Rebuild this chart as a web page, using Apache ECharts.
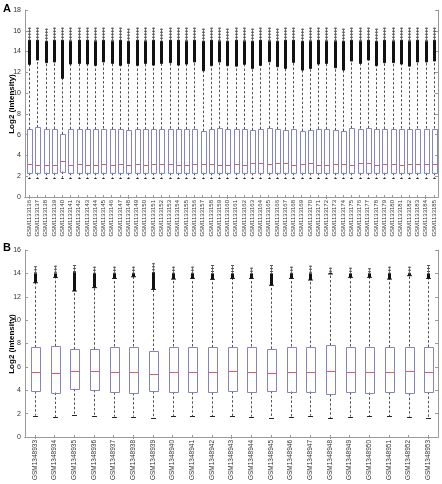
<!DOCTYPE html>
<html><head><meta charset="utf-8">
<script src="https://cdn.jsdelivr.net/npm/echarts@6/dist/echarts.min.js"></script>
<style>html,body{margin:0;padding:0;background:#fff}#c{width:442px;height:484px}</style>
</head><body><div id="c"></div>
<script>
// ---------- Panel A ----------
const catsA = ['GSM1133136','GSM1133137','GSM1133138','GSM1133139','GSM1133140','GSM1133141','GSM1133142','GSM1133143','GSM1133144','GSM1133145',
'GSM1133146','GSM1133147','GSM1133148','GSM1133149','GSM1133150','GSM1133151','GSM1133152','GSM1133153','GSM1133154','GSM1133155',
'GSM1133156','GSM1133157','GSM1133158','GSM1133159','GSM1133160','GSM1133161','GSM1133162','GSM1133163','GSM1133164','GSM1133165',
'GSM1133166','GSM1133167','GSM1133168','GSM1133169','GSM1133170','GSM1133171','GSM1133172','GSM1133173','GSM1133174','GSM1133175',
'GSM1133176','GSM1133177','GSM1133178','GSM1133179','GSM1133180','GSM1133181','GSM1133182','GSM1133183','GSM1133184','GSM1133185'];
const q3A  = [6.50,6.69,6.52,6.55,6.04,6.52,6.52,6.52,6.50,6.59, 6.52,6.50,6.47,6.50,6.50,6.55,6.55,6.58,6.52,6.52,
              6.58,6.34,6.52,6.62,6.52,6.50,6.50,6.42,6.52,6.62, 6.52,6.47,6.59,6.34,6.42,6.55,6.52,6.42,6.34,6.62,
              6.59,6.62,6.50,6.55,6.50,6.59,6.52,6.59,6.59,6.59];
const medA = [3.22,3.06,3.12,3.12,3.47,3.12,3.22,3.12,3.12,3.15, 3.12,3.18,3.12,3.22,3.12,3.15,3.15,3.18,3.09,3.09,
              3.15,3.15,3.18,3.09,3.12,3.15,3.12,3.25,3.25,3.15, 3.30,3.30,3.09,3.15,3.25,3.06,3.12,3.22,3.22,3.12,
              3.28,3.25,3.12,3.18,3.22,3.12,3.18,3.22,3.22,3.22];
const q1A  = [2.33,2.33,2.33,2.33,2.45,2.33,2.33,2.33,2.33,2.33, 2.33,2.33,2.33,2.33,2.33,2.33,2.33,2.33,2.33,2.33,
              2.33,2.33,2.33,2.33,2.33,2.33,2.33,2.33,2.33,2.33, 2.33,2.33,2.33,2.33,2.33,2.33,2.33,2.33,2.33,2.33,
              2.33,2.33,2.33,2.33,2.33,2.33,2.33,2.33,2.33,2.33];
const wlA  = [1.83,1.83,1.83,1.83,1.85,1.83,1.83,1.83,1.83,1.83, 1.83,1.83,1.83,1.83,1.83,1.83,1.83,1.83,1.83,1.83,
              1.83,1.83,1.83,1.83,1.83,1.83,1.83,1.83,1.83,1.83, 1.83,1.83,1.83,1.83,1.83,1.83,1.83,1.83,1.83,1.83,
              1.83,1.83,1.83,1.83,1.83,1.83,1.83,1.83,1.83,1.83];
const whA  = [12.77,13.19,12.93,13.00,11.42,12.80,12.86,12.80,12.67,13.00, 12.86,12.67,12.86,12.67,12.86,12.70,12.86,12.93,12.70,12.80,
              13.00,12.15,12.64,13.00,12.64,12.60,12.77,12.38,12.67,13.02, 12.54,12.38,12.96,12.22,12.38,12.80,12.86,12.44,12.22,13.09,
              12.86,13.19,12.64,12.93,12.93,12.80,12.60,13.00,13.00,13.09];
const denseEndA = [15.1,15.1,15.0,15.1,15.1,15.0,15.1,15.1,15.0,15.1, 15.0,15.1,15.0,15.1,15.0,15.1,15.0,15.1,15.1,15.0,
              15.1,15.0,15.1,15.0,15.0,15.1,15.0,15.0,15.1,15.0, 15.0,15.1,15.1,15.0,15.0,15.1,15.0,15.0,15.0,15.1,
              15.0,15.1,15.0,15.1,15.0,15.1,15.0,15.1,15.0,15.1];
const topA = [16.3,16.3,16.2,16.3,16.3,16.3,16.3,16.3,16.3,16.3, 16.3,16.3,16.2,16.3,16.3,16.3,16.2,16.3,16.3,16.3,
              16.3,16.2,16.3,16.3,16.2,16.3,16.3,16.2,16.3,16.3, 16.2,16.3,16.3,16.2,16.3,16.3,16.3,16.3,16.2,16.3,
              16.3,16.3,16.2,16.3,16.3,16.3,16.3,16.3,16.3,16.3];
const yTicksA = {min: 0, max: 18, step: 2};

// ---------- Panel B ----------
const catsB = ['GSM1348933','GSM1348934','GSM1348935','GSM1348936','GSM1348937','GSM1348938','GSM1348939','GSM1348940','GSM1348941','GSM1348942',
'GSM1348943','GSM1348944','GSM1348945','GSM1348946','GSM1348947','GSM1348948','GSM1348949','GSM1348950','GSM1348951','GSM1348952','GSM1348953'];
const wlB  = [1.83,1.72,1.86,1.77,1.74,1.74,1.63,1.80,1.77,1.77,1.77,1.74,1.60,1.74,1.83,1.60,1.74,1.80,1.77,1.74,1.66];
const q1B  = [3.92,3.80,4.12,4.03,3.83,3.77,3.92,3.86,3.83,3.83,3.92,3.83,3.94,3.89,3.89,3.66,3.83,3.80,3.83,3.75,3.86];
const medB = [5.54,5.51,5.63,5.63,5.54,5.54,5.37,5.57,5.57,5.57,5.63,5.54,5.51,5.57,5.60,5.63,5.54,5.54,5.54,5.63,5.54];
const q3B  = [7.66,7.77,7.49,7.51,7.74,7.74,7.40,7.74,7.74,7.66,7.66,7.74,7.54,7.74,7.66,7.83,7.74,7.74,7.66,7.74,7.69];
const whB  = [13.20,13.66,12.49,12.78,13.57,13.71,12.63,13.51,13.57,13.49,13.57,13.57,12.98,13.57,13.43,13.95,13.66,13.66,13.51,13.80,13.57];
const denseEndB = [14.0,14.0,14.1,14.0,14.0,14.0,14.1,14.0,14.0,14.0,14.0,14.0,14.0,14.0,14.0,14.05,14.0,14.0,14.0,14.0,14.0];
const topB = [14.60,14.66,14.71,14.57,14.57,14.57,14.86,14.57,14.57,14.71,14.71,14.48,14.71,14.57,14.66,14.48,14.48,14.43,14.57,14.57,14.71];
const yTicksB = {min: 0, max: 16, step: 2};

const FONT = 'Arial, "Liberation Sans", sans-serif';
const FRAME = '#9a9a9a';

function rows(cats, wl, q1, med, q3, wh, de, tp) {
  return cats.map((c, i) => [i, wl[i], q1[i], med[i], q3[i], wh[i], de[i], tp[i]]);
}

function makeRender(boxRatio, denseW) {
  return function (params, api) {
    const i = api.value(0);
    const bw = api.size([1, 0])[0];
    const half = bw * boxRatio / 2;
    const cx = Math.round(api.coord([i, 0])[0]) + 0.5;
    const Y = v => api.coord([i, v])[1];
    const yWl = Y(api.value(1)), yQ1 = Y(api.value(2)), yMed = Y(api.value(3)),
          yQ3 = Y(api.value(4)), yWh = Y(api.value(5)), yDe = Y(api.value(6)), yTop = Y(api.value(7));
    const capHalf = half * 0.5;
    const bl = Math.round(cx - half) + 0.5, br = Math.round(cx + half) + 0.5;
    const dash = {stroke: '#555', lineWidth: 1, lineDash: [2.5, 2]};
    return {
      type: 'group',
      children: [
        {type: 'line', shape: {x1: cx, y1: yQ1, x2: cx, y2: yWl}, style: dash},
        {type: 'line', shape: {x1: cx, y1: yQ3, x2: cx, y2: yWh}, style: dash},
        {type: 'line', shape: {x1: cx - capHalf, y1: Math.round(yWl) + 0.5, x2: cx + capHalf, y2: Math.round(yWl) + 0.5}, style: {stroke: '#222', lineWidth: 1}},
        {type: 'rect', shape: {x: bl, y: Math.round(yQ3) + 0.5, width: br - bl, height: Math.round(yQ1) - Math.round(yQ3)},
          style: {fill: null, stroke: '#8585c2', lineWidth: 1}},
        {type: 'line', shape: {x1: bl + 0.5, y1: Math.round(yMed) + 0.5, x2: br - 0.5, y2: Math.round(yMed) + 0.5}, style: {stroke: '#e25a5a', lineWidth: 1}},
        // upper outliers: dense run, then sparse "+" tail
        {type: 'line', shape: {x1: cx, y1: yTop, x2: cx, y2: yDe}, style: {stroke: '#777', lineWidth: 1}},
        {type: 'line', shape: {x1: cx, y1: yTop, x2: cx, y2: yDe}, style: {stroke: '#555', lineWidth: denseW, lineDash: [1, 2]}},
        {type: 'rect', shape: {x: cx - denseW / 2, y: yDe, width: denseW, height: yWh - yDe}, style: {fill: '#111'}},
        {type: 'line', shape: {x1: cx - capHalf, y1: yWh, x2: cx + capHalf, y2: yWh}, style: {stroke: '#111', lineWidth: 1}}
      ]
    };
  };
}

function panelAxes(gi, cats, ticks, labelSize) {
  const tickStyle = {lineStyle: {color: FRAME, width: 1}};
  return {
    x: [
      {gridIndex: gi, type: 'category', data: cats, boundaryGap: true, position: 'bottom',
        axisLine: {show: true, lineStyle: {color: FRAME}},
        axisTick: Object.assign({show: true, inside: true, alignWithLabel: true, length: 2}, tickStyle),
        axisLabel: {rotate: 90, interval: 0, fontSize: labelSize, margin: 3, color: '#333', fontFamily: FONT},
        splitLine: {show: false}},
      {gridIndex: gi, type: 'category', data: cats, boundaryGap: true, position: 'top',
        axisLine: {show: true, lineStyle: {color: FRAME}},
        axisTick: Object.assign({show: true, inside: true, alignWithLabel: true, length: 2}, tickStyle),
        axisLabel: {show: false}, splitLine: {show: false}}
    ],
    y: [
      {gridIndex: gi, type: 'value', min: ticks.min, max: ticks.max, interval: ticks.step, position: 'left',
        axisLine: {show: true, lineStyle: {color: FRAME}},
        axisTick: Object.assign({show: true, inside: true, length: 3}, tickStyle),
        axisLabel: {fontSize: 7, margin: 4, color: '#333', fontFamily: FONT},
        splitLine: {show: false}},
      {gridIndex: gi, type: 'value', min: ticks.min, max: ticks.max, interval: ticks.step, position: 'right',
        axisLine: {show: true, lineStyle: {color: FRAME}},
        axisTick: Object.assign({show: true, inside: true, length: 3}, tickStyle),
        axisLabel: {show: false}, splitLine: {show: false}}
    ]
  };
}

const axA = panelAxes(0, catsA, yTicksA, 6);
const axB = panelAxes(1, catsB, yTicksB, 6.5);

const chart = echarts.init(document.getElementById('c'), null, {renderer: 'canvas'});
chart.setOption({
  animation: false,
  backgroundColor: '#fff',
  textStyle: {fontFamily: FONT},
  grid: [
    {left: 25, right: 4, top: 10, height: 187},
    {left: 25, right: 4, top: 250, height: 187}
  ],
  xAxis: axA.x.concat(axB.x),
  yAxis: axA.y.concat(axB.y),
  series: [
    {type: 'custom', xAxisIndex: 0, yAxisIndex: 0, renderItem: makeRender(0.56, 3),
      data: rows(catsA, wlA, q1A, medA, q3A, whA, denseEndA, topA), encode: {x: 0, y: [1, 2, 3, 4, 5, 6, 7]}},
    {type: 'custom', xAxisIndex: 2, yAxisIndex: 2, renderItem: makeRender(0.5, 3),
      data: rows(catsB, wlB, q1B, medB, q3B, whB, denseEndB, topB), encode: {x: 0, y: [1, 2, 3, 4, 5, 6, 7]}}
  ],
  graphic: [
    {type: 'text', x: 3, y: 3, style: {text: 'A', font: 'bold 11px ' + FONT, fill: '#000'}},
    {type: 'text', x: 3, y: 242, style: {text: 'B', font: 'bold 11px ' + FONT, fill: '#000'}},
    {type: 'text', x: 12, y: 104, rotation: Math.PI / 2,
      style: {text: 'Log2 (intensity)', font: 'bold 8px ' + FONT, fill: '#000', textAlign: 'center', textVerticalAlign: 'middle'}},
    {type: 'text', x: 12, y: 344, rotation: Math.PI / 2,
      style: {text: 'Log2 (intensity)', font: 'bold 8px ' + FONT, fill: '#000', textAlign: 'center', textVerticalAlign: 'middle'}}
  ]
});
</script>
</body></html>
